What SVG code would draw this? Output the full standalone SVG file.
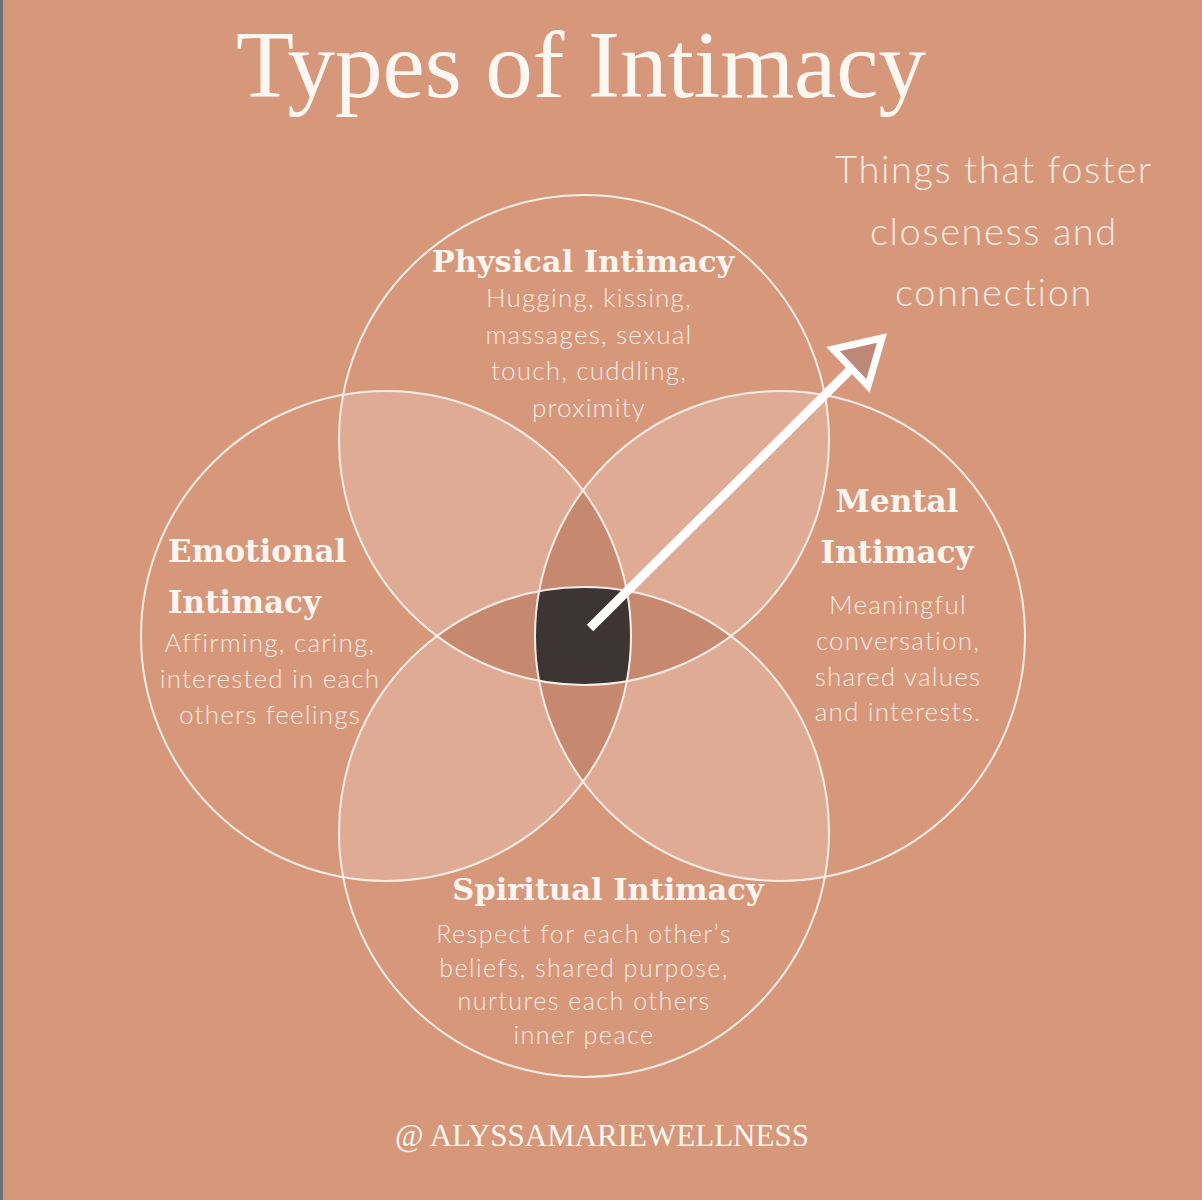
<svg xmlns="http://www.w3.org/2000/svg" width="1202" height="1200" viewBox="0 0 1202 1200">
<style>
.ring{fill:none;stroke:#f9ede5;stroke-width:2}
.hd{font-family:"DejaVu Serif","Liberation Serif",serif;font-weight:bold;fill:#fdf6f0}
.bd{font-family:Lato,"Open Sans",sans-serif;font-weight:300;fill:#f9ece3;letter-spacing:1.2px}
.tt{font-family:"Liberation Serif",serif;fill:#fdf7f2}
</style>
<defs>
<clipPath id="cT"><circle cx="584" cy="440" r="245"/></clipPath>
<clipPath id="cB"><circle cx="584" cy="832" r="245"/></clipPath>
<clipPath id="cL"><circle cx="386" cy="636" r="245"/></clipPath>
<clipPath id="cR"><circle cx="780" cy="636" r="245"/></clipPath>
</defs>
<rect x="0" y="0" width="1202" height="1200" fill="#d6977b"/>
<rect x="0" y="0" width="3" height="1200" fill="#6d7277"/>
<g id="overlaps">
<g clip-path="url(#cT)"><circle cx="386" cy="636" r="245" fill="#dfab94"/><circle cx="780" cy="636" r="245" fill="#dfab94"/></g>
<g clip-path="url(#cB)"><circle cx="386" cy="636" r="245" fill="#dfab94"/><circle cx="780" cy="636" r="245" fill="#dfab94"/></g>
<g clip-path="url(#cL)"><g clip-path="url(#cR)"><circle cx="584" cy="440" r="245" fill="#c6896f"/><circle cx="584" cy="832" r="245" fill="#c6896f"/></g></g>
<g clip-path="url(#cT)"><g clip-path="url(#cB)"><circle cx="386" cy="636" r="245" fill="#c6896f"/><circle cx="780" cy="636" r="245" fill="#c6896f"/></g></g>
<g clip-path="url(#cT)"><g clip-path="url(#cB)"><g clip-path="url(#cL)"><circle cx="780" cy="636" r="245" fill="#3d3434"/></g></g></g>
</g>
<g id="node-physical">
<circle class="ring" cx="584" cy="440" r="245"/>
<text class="hd" x="583" y="272" font-size="30.5" text-anchor="middle">Physical Intimacy</text>
<text class="bd" font-size="26" text-anchor="middle"><tspan x="589" y="307">Hugging, kissing,</tspan><tspan x="589" y="344">massages, sexual</tspan><tspan x="589" y="380">touch, cuddling,</tspan><tspan x="589" y="417">proximity</tspan></text>
</g>
<g id="node-emotional">
<circle class="ring" cx="386" cy="636" r="245"/>
<text class="hd" x="168" y="562" font-size="31">Emotional</text>
<text class="hd" x="168" y="613" font-size="31">Intimacy</text>
<text class="bd" font-size="26" text-anchor="middle"><tspan x="270" y="652">Affirming, caring,</tspan><tspan x="270" y="688">interested in each</tspan><tspan x="270" y="724">others feelings</tspan></text>
</g>
<g id="node-mental">
<circle class="ring" cx="780" cy="636" r="245"/>
<text class="hd" x="897" y="512" font-size="31" text-anchor="middle">Mental</text>
<text class="hd" x="897" y="563" font-size="31" text-anchor="middle">Intimacy</text>
<text class="bd" font-size="26" text-anchor="middle"><tspan x="898" y="614">Meaningful</tspan><tspan x="898" y="650">conversation,</tspan><tspan x="898" y="686">shared values</tspan><tspan x="898" y="721">and interests.</tspan></text>
</g>
<g id="node-spiritual">
<circle class="ring" cx="584" cy="832" r="245"/>
<text class="hd" x="608" y="900" font-size="30.5" text-anchor="middle">Spiritual Intimacy</text>
<text class="bd" font-size="25" text-anchor="middle" style="letter-spacing:1.5px"><tspan x="584" y="943">Respect for each other’s</tspan><tspan x="584" y="977">beliefs, shared purpose,</tspan><tspan x="584" y="1010">nurtures each others</tspan><tspan x="584" y="1044">inner peace</tspan></text>
</g>
<g id="connectors">
<line x1="590" y1="628" x2="862" y2="358" stroke="#ffffff" stroke-width="9"/>
<polygon points="882,338 833,349 868,386" fill="#bd8876" stroke="#ffffff" stroke-width="7" stroke-linejoin="miter"/>
</g>
<g id="texts">
<text class="tt" x="581" y="97" font-size="95" text-anchor="middle">Types of Intimacy</text>
<text class="bd" font-size="38" text-anchor="middle" font-weight="400" style="letter-spacing:1.6px"><tspan x="994" y="183">Things that foster</tspan><tspan x="994" y="245">closeness and</tspan><tspan x="994" y="306">connection</tspan></text>
<text class="tt" x="602" y="1146" font-size="31" text-anchor="middle">@ ALYSSAMARIEWELLNESS</text>
</g>
</svg>
